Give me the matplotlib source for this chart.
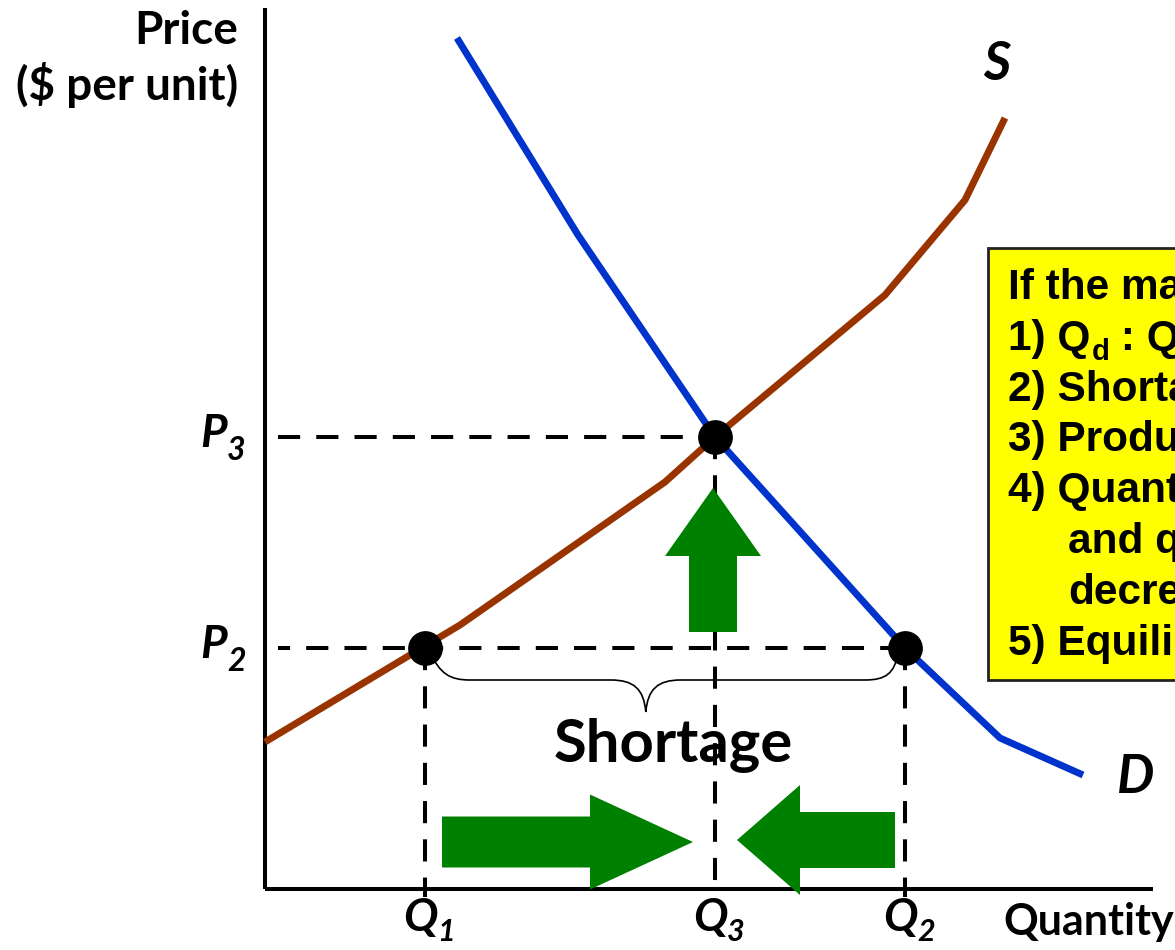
import matplotlib
matplotlib.use("Agg")
import matplotlib.pyplot as plt
from matplotlib.patches import FancyArrow, Rectangle, PathPatch
from matplotlib.path import Path

# ---------------- data (units: quantity / price on the chart's own scale) ----------
supply_q = [0, 195, 400, 450, 620, 700, 740]
supply_p = [147, 264, 407, 452, 594, 689, 771]
demand_q = [192, 313, 450, 640, 735, 818]
demand_p = [851, 654, 452, 241, 151, 114]

Q1, Q3, Q2 = 160, 450, 640
P2, P3 = 241, 452

box_lines = [
    "If the market price is below equilibrium:",
    None,  # "1) Qd : Qs" line, built with subscripts
    "2) Shortage",
    "3) Producers raise prices",
    "4) Quantity supplied increases",
    "and quantity demanded",
    "decreases",
    "5) Equilibrium is restored",
]
box_indent = [False, False, False, False, False, True, True, False]

# ---------------- figure ----------------
W, H = 1175, 950
fig = plt.figure(figsize=(W / 100, H / 100), dpi=100)
ax = fig.add_axes([265 / W, 61 / H, 888 / W, 881 / H])
ax.set_xlim(0, 888)
ax.set_ylim(0, 881)
for s in ["top", "right"]:
    ax.spines[s].set_visible(False)
for s in ["left", "bottom"]:
    ax.spines[s].set_linewidth(2.9)
    ax.spines[s].set_capstyle("butt")
ax.set_xticks([])
ax.set_yticks([])

CAL = "Lato"
BLACK = "black"
GREEN = "#008000"

# dashed guide lines
dash_kw = dict(color=BLACK, lw=2.9, linestyle=(0, (5.5, 4.0)), zorder=2, clip_on=False)
ax.plot([13, Q3], [P3, P3], **dash_kw)
ax.plot([13, Q2], [P2, P2], **{**dash_kw, "linestyle": (12, (5.5, 4.0))})
ax.plot([Q1, Q1], [P2, -8], **dash_kw)
ax.plot([Q3, Q3], [P3, 0], **dash_kw)
ax.plot([Q2, Q2], [P2, -8], **dash_kw)

# curves
ax.plot(supply_q, supply_p, color="#993300", lw=5, solid_capstyle="butt", zorder=3, clip_on=False)
ax.plot(demand_q, demand_p, color="#0033CC", lw=5, solid_capstyle="butt", zorder=3, clip_on=False)

# equilibrium / quantity points
ax.plot([Q1, Q2, Q3], [P2, P2, P3], "o", color=BLACK, ms=24, zorder=6, clip_on=False)

# arrows
ax.add_patch(FancyArrow(Q3 - 2, P2 + 16, 0, (P3 - 51) - (P2 + 16), width=48, head_width=96,
                        head_length=68, length_includes_head=True, color=GREEN, lw=0, zorder=5))
ax.add_patch(FancyArrow(Q1 + 17, 47, (Q3 - 22) - (Q1 + 17), 0, width=51, head_width=95,
                        head_length=103, length_includes_head=True, color=GREEN, lw=0, zorder=5,
                        clip_on=False))
ax.add_patch(FancyArrow(Q2 - 10, 49, (Q3 + 22) - (Q2 - 10), 0, width=56, head_width=110,
                        head_length=63, length_includes_head=True, color=GREEN, lw=0, zorder=5,
                        clip_on=False))

# brace under the shortage
tip = Q1 + 0.46 * (Q2 - Q1)
by = P2 - 32
verts = [(Q1 + 5, P2 - 4), (Q1 + 15, by + 6), (Q1 + 25, by), (Q1 + 45, by),
         (tip - 35, by),
         (tip - 12, by), (tip - 2, by - 9), (tip, by - 32),
         (tip + 2, by - 9), (tip + 12, by), (tip + 35, by),
         (Q2 - 40, by),
         (Q2 - 20, by), (Q2 - 10, by + 6), (Q2 - 7, P2 - 4)]
codes = [Path.MOVETO, Path.CURVE4, Path.CURVE4, Path.CURVE4,
         Path.LINETO,
         Path.CURVE4, Path.CURVE4, Path.CURVE4,
         Path.CURVE4, Path.CURVE4, Path.CURVE4,
         Path.LINETO,
         Path.CURVE4, Path.CURVE4, Path.CURVE4]
ax.add_patch(PathPatch(Path(verts, codes), fill=False, lw=1.2, color=BLACK, zorder=4))

ax.text(tip + 27, P2 - 114, "Shortage", fontsize=43, fontweight="bold", family=CAL,
        ha="center", va="baseline", zorder=7)


def sub_label(x, y, main, sub, size, subsize, dx, dy, family=CAL, style="italic", ha="center"):
    t = ax.text(x, y, main, fontsize=size, fontweight="bold", fontstyle=style, family=family,
                ha=ha, va="baseline", clip_on=False, zorder=7)
    ax.annotate(sub, xy=(1, y), xycoords=(t, "data"), xytext=(dx, dy), textcoords="offset pixels",
                fontsize=subsize, fontweight="bold", fontstyle=style, family=family,
                ha="left", va="baseline", annotation_clip=False, zorder=7)
    return t


# axis value labels
sub_label(-51, P3 - 10, "P", "3", 33, 23, 0, -13)
sub_label(-51, P2 - 10, "P", "2", 33, 23, 0, -13)
sub_label(Q1 - 5, -42, "Q", "1", 33, 22, 0, -10)
sub_label(Q3 - 5, -42, "Q", "3", 33, 22, 0, -10)
sub_label(Q2 - 5, -42, "Q", "2", 33, 22, 0, -10)

ax.text(718, 809, "S", fontsize=38, fontweight="bold", fontstyle="italic", family=CAL,
        ha="left", va="baseline", clip_on=False)
ax.text(852, 96, "D", fontsize=38, fontweight="bold", fontstyle="italic", family=CAL,
        ha="left", va="baseline", clip_on=False)

ax.text(-27, 845, "Price", fontsize=33, fontweight="bold", family=CAL, ha="right",
        va="baseline", clip_on=False)
ax.text(-27, 789, "($ per unit)", fontsize=33, fontweight="bold", family=CAL, ha="right",
        va="baseline", clip_on=False)
ax.text(738, -46, "Quantity", fontsize=31, fontweight="bold", family=CAL, ha="left",
        va="baseline", clip_on=False)

# yellow explanation box (extends past the right edge)
ax.add_patch(Rectangle((723, 209), 500, 432, facecolor="#FFFF00", edgecolor="#222222",
                       lw=2, clip_on=False, zorder=1))
ARIAL = "Liberation Sans"
BOX_FS = 30.5
for i, line in enumerate(box_lines):
    yb = 590 - 50.8 * i
    xb = 803 if box_indent[i] else 743
    if line is None:
        t = ax.text(xb, yb, "1) Q", fontsize=BOX_FS, fontweight="bold", family=ARIAL,
                    ha="left", va="baseline", clip_on=False, zorder=7)
        s1 = ax.annotate("d", xy=(1, yb), xycoords=(t, "data"), xytext=(1, -10),
                         textcoords="offset pixels", fontsize=21, fontweight="bold",
                         family=ARIAL, ha="left", va="baseline", annotation_clip=False, zorder=7)
        t2 = ax.annotate(" : Q", xy=(1, yb), xycoords=(s1, "data"), xytext=(0, 0),
                         textcoords="offset pixels", fontsize=BOX_FS, fontweight="bold",
                         family=ARIAL, ha="left", va="baseline", annotation_clip=False, zorder=7)
        ax.annotate("s", xy=(1, yb), xycoords=(t2, "data"), xytext=(1, -10),
                    textcoords="offset pixels", fontsize=21, fontweight="bold",
                    family=ARIAL, ha="left", va="baseline", annotation_clip=False, zorder=7)
    else:
        ax.text(xb, yb, line, fontsize=BOX_FS, fontweight="bold", family=ARIAL, ha="left",
                va="baseline", clip_on=False, zorder=7)

fig.savefig("out.png", dpi=100)
